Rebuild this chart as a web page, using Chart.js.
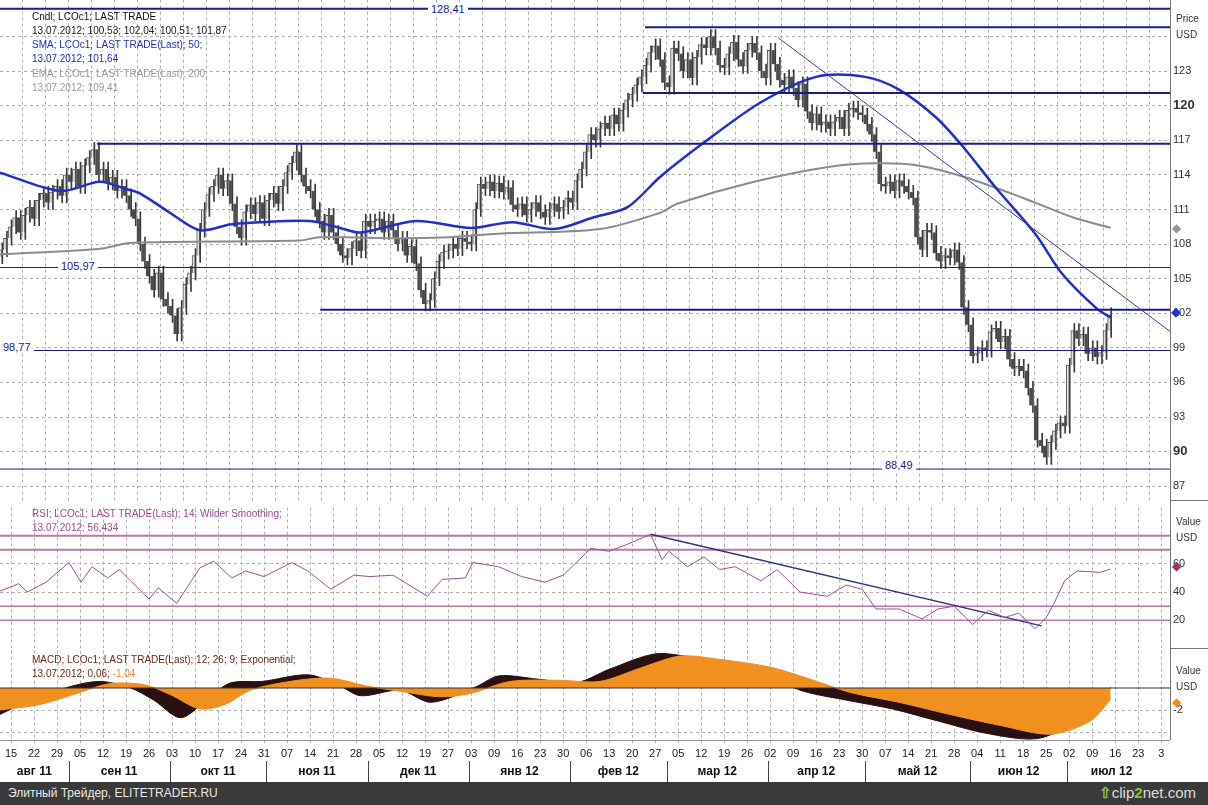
<!DOCTYPE html>
<html>
<head>
<meta charset="utf-8">
<script src="https://cdn.jsdelivr.net/npm/chart.js@4.4.0/dist/chart.umd.min.js"></script>
<style>
  body { margin: 0; width: 1208px; height: 805px; background: #fff; position: relative; overflow: hidden; font-family: "Liberation Sans", Arial, sans-serif; }
  canvas { position: absolute; left: 0; }
  .t { position: absolute; font-size: 10px; white-space: nowrap; line-height: 12px; }
  .lbl { position: absolute; font-size: 11px; color: #1a1a8c; background: #fff; padding: 0 3px; line-height: 12px; }
  .rule { position: absolute; background: #777; }
  #footer { position: absolute; left: 0; top: 782px; width: 1208px; height: 23px; background: #3a3a3a; color: #e8e8e8; font-size: 12px; }
</style>
</head>
<body>
<canvas id="main" width="1208" height="522" style="top:-10px"></canvas>
<canvas id="rsi" width="1208" height="160" style="top:498px"></canvas>
<canvas id="macd" width="1208" height="144" style="top:641px"></canvas>

<div class="rule" style="left:1170px;top:0;width:1px;height:740px"></div>
<div class="rule" style="left:1170px;top:500px;width:38px;height:1px"></div>
<div class="rule" style="left:1170px;top:648px;width:38px;height:1px"></div>
<div class="rule" style="left:0;top:740px;width:1170px;height:1px;background:#999"></div>

<div class="t" style="left:32px;top:11px;color:#111">Cndl; LCOc1; LAST TRADE</div>
<div class="t" style="left:32px;top:25px;color:#222">13.07.2012; 100,53; 102,04; 100,51; 101,87</div>
<div class="t" style="left:32px;top:39px;color:#2030c0">SMA; LCOc1; LAST TRADE(Last);  50;</div>
<div class="t" style="left:32px;top:53px;color:#2030c0">13.07.2012; 101,64</div>
<div class="t" style="left:32px;top:68px;color:#999">EMA; LCOc1; LAST TRADE(Last);  200;</div>
<div class="t" style="left:32px;top:82px;color:#999">13.07.2012; 109,41</div>
<div class="lbl" style="left:428px;top:3px">128,41</div>
<div class="lbl" style="left:58px;top:260px">105,97</div>
<div class="lbl" style="left:0px;top:341px">98,77</div>
<div class="lbl" style="left:882px;top:459px">88,49</div>
<div class="t" style="left:1176px;top:13px;color:#333">Price</div>
<div class="t" style="left:1176px;top:29px;color:#333">USD</div>
<div class="t" style="left:1172px;top:222px;color:#999;font-size:12px">&#9670;</div>
<div class="t" style="left:1171px;top:306px;color:#1a3ad0;font-size:13px">&#9670;</div>

<div class="t" style="left:32px;top:508px;color:#a04a90">RSI; LCOc1; LAST TRADE(Last);  14; Wilder Smoothing;</div>
<div class="t" style="left:32px;top:522px;color:#a04a90">13.07.2012; 56,434</div>
<div class="t" style="left:1176px;top:516px;color:#333">Value</div>
<div class="t" style="left:1176px;top:532px;color:#333">USD</div>
<div class="t" style="left:1172px;top:560px;color:#a0306a;font-size:12px">&#9670;</div>

<div class="t" style="left:32px;top:654px;color:#6a2a1a">MACD; LCOc1; LAST TRADE(Last);  12; 26; 9; Exponential;</div>
<div class="t" style="left:32px;top:668px;color:#6a2a1a">13.07.2012; 0,06; <span style="color:#f08a20">-1,04</span></div>
<div class="t" style="left:1176px;top:665px;color:#333">Value</div>
<div class="t" style="left:1176px;top:681px;color:#333">USD</div>
<div class="t" style="left:1172px;top:696px;color:#f08a20;font-size:12px">&#9670;</div>

<div id="footer"><span style="position:absolute;left:8px;top:4px">Элитный Трейдер, ELITETRADER.RU</span>
<span style="position:absolute;right:12px;top:2px;font-size:15px;color:#ddd"><b style="color:#8bc34a">&#8679;</b>clip<b style="color:#8bc34a">2</b>net.com</span></div>

<script>
/* Week tick labels (Mondays), one per 5 trading days from 15 Aug 2011. */
const weekLabels = ["15","22","29","05","12","19","26","03","10","17","24","31","07","14","21","28",
  "05","12","19","27","03","09","16","23","30","06","13","20","27","05","12","19","26","02","09",
  "16","23","30","07","14","21","28","04","11","18","25","02","09","16","23","3"]

/* Month labels and first trading day (day index) of each month. */
const monthNames = ["авг 11","сен 11","окт 11","ноя 11","дек 11","янв 12","фев 12","мар 12","апр 12","май 12","июн 12","июл 12"]
const monthStart = [-3, 13, 35, 56, 78, 100, 122, 143, 165, 186, 209, 230]

/* Daily closes, first value is day -2 (11 Aug 2011). */
const firstDay = -2
const closes = [107.5, 108.5,
  109.5, 110.3, 109.0, 110.5, 111.2,
  110.2, 111.8, 112.4, 111.6, 112.5,
  113.0, 112.2, 114.0, 113.4, 114.5,
  113.0, 114.8, 115.5, 116.2, 114.0,
  114.5, 113.3, 113.8, 112.6, 113.0,
  112.2, 111.0, 110.2, 108.0, 106.5,
  105.2, 104.0, 105.5, 103.2, 102.6,
  101.8, 100.2, 102.5, 104.5, 105.5,
  107.0, 109.2, 111.0, 112.3, 113.0,
  114.0, 112.8, 113.5, 111.5, 109.5,
  108.5, 110.8, 111.4, 110.6, 111.6,
  110.2, 111.8, 112.4, 111.5, 113.0,
  114.2, 115.0, 116.0, 114.0, 113.0,
  112.6, 111.0, 110.0, 109.0, 110.5,
  109.0, 108.0, 107.0, 106.8, 107.6,
  108.3, 107.4, 110.0, 109.5, 110.0,
  110.2, 109.0, 110.0, 109.2, 108.0,
  108.5, 107.0, 107.8, 106.3, 104.0,
  102.8, 103.1, 105.0, 106.5, 107.3,
  107.4, 108.0, 107.6, 108.5, 108.2,
  108.0, 111.0, 113.2, 112.8, 113.4,
  112.6, 113.3, 112.5, 112.9, 111.4,
  111.0, 111.5, 110.5, 111.0, 111.6,
  110.8, 110.3, 111.0, 111.5, 110.8,
  111.2, 112.0, 111.6, 113.5, 114.5,
  116.0, 117.5, 117.0, 118.0, 118.5,
  118.0, 119.2, 118.4, 119.6, 120.5,
  121.0, 121.8, 122.5, 123.5, 124.6,
  125.2, 124.0, 122.0, 121.6, 125.0,
  124.5, 123.0, 124.0, 122.4, 124.2,
  125.3, 125.0, 126.0, 125.0, 123.5,
  123.3, 124.5, 125.5, 124.0, 123.4,
  124.8, 125.4, 124.6, 123.0, 122.4,
  124.8, 123.6, 122.2, 121.8, 122.5,
  121.5, 120.5, 121.9, 119.5, 118.5,
  119.3, 118.3, 118.6, 118.0, 118.6,
  119.0, 118.0, 119.6, 119.8, 119.4,
  119.2, 118.4, 117.5, 116.0, 113.2,
  113.0, 113.4, 112.6, 113.5, 113.0,
  112.5, 112.0, 108.6, 107.5, 109.2,
  109.0, 107.2, 106.5, 107.0, 106.8,
  107.5, 106.4, 102.5, 101.0, 98.3,
  98.5, 99.0, 98.8, 100.4, 100.7,
  99.5, 100.0, 98.0, 97.2, 97.4,
  97.0, 95.5, 94.0, 91.0, 90.5,
  89.5, 90.8, 91.8, 92.5, 92.2,
  97.5, 100.5, 99.8, 100.2, 98.5,
  99.0, 98.2, 98.6, 100.5, 101.87]

/* SMA 50 and EMA 200 (day index, value). */
const smaDays = [-2.4, 10.7, 19.3, 24.8, 28, 34.6, 41, 47.6, 54, 65, 71.5, 76, 88, 100, 109, 118, 126.5, 134, 141, 150.6, 163, 175, 185.6, 193, 201, 207, 214, 222.6, 228.5, 236, 239]
const smaVals = [114.2, 112.6, 113.4, 112.8, 112.4, 110.7, 109.2, 109.7, 109.9, 110, 109.4, 109, 110, 109.4, 109.9, 109.3, 110.3, 111.2, 113.8, 116.8, 120.3, 122.5, 122.5, 121.4, 119, 116.4, 112.9, 108.9, 105.4, 102.4, 101.64]
const emaDays = [-2.4, 19.3, 26, 62.8, 67, 84.6, 95.4, 106, 128, 141, 144.8, 161.5, 178, 188, 197.4, 207.4, 220, 230.9, 239]
const emaVals = [107.1, 107.6, 108.1, 108.3, 108.6, 108.5, 108.6, 108.9, 109.3, 110.7, 111.5, 113.4, 114.7, 115.0, 114.8, 113.8, 112.0, 110.3, 109.41]

/* Support / resistance lines: [fromDay, toDay, price, width]. */
const levels = [[-2.4, 252, 128.41, 2], [137.8, 252, 126.8, 2], [137.3, 252, 121.1, 2], [18.7, 252, 116.7, 2],
  [-2.4, 252, 105.97, 1], [67.2, 252, 102.3, 2], [-2.4, 252, 98.77, 1], [-2.4, 252, 88.49, 1]]
const trendDays = [166.7, 252]
const trendVals = [125.9, 100.4]

/* RSI 14. */
const rsiDays = [-2.4, 1.7, 3.5, 7.6, 12.6, 15.2, 17.6, 21, 23.5, 26, 30, 32, 36, 41, 44, 48, 51, 55, 61, 64.5, 69.5, 74.5, 78, 83, 86, 90.5, 93.7, 98.7, 100.4, 106, 111, 116, 120, 126, 130, 134, 139, 141.5, 143, 147, 150.6, 154, 157.4, 163, 166.5, 171.5, 177.4, 181.5, 185, 188, 193, 198, 201.5, 205, 209, 212.4, 216, 219, 222.6, 225, 226.7, 229, 231.7, 236.7, 239]
const rsiVals = [40.7, 46, 40, 47, 61, 47, 58, 50, 56, 48, 35, 43, 32, 57, 62, 50, 55, 51, 61, 55, 42, 52, 51, 52, 46, 37, 49, 50, 61, 58, 51, 47, 52, 71, 69, 74, 81, 63, 69, 58, 65, 56, 58, 48, 56, 40, 37, 45, 42, 28, 28, 21, 28, 30, 17, 27, 22, 25, 14, 22, 32, 48, 55, 54, 56.4]
const rsiLevels = [[80, 2], [70, 2], [30, 1.5], [20, 1.5]]
const rsiTrendDays = [139, 224]
const rsiTrendVals = [81, 16]

/* MACD line and signal. */
const macdDays = [-2.4, 4.3, 12.6, 19.3, 26, 31, 37, 44, 48, 54.6, 64.6, 71, 76, 84.6, 91.3, 101, 106, 114.6, 123, 130, 140, 148, 158, 165, 171.5, 181.5, 191.5, 201.5, 211.7, 223, 231.7, 236.7, 239]
const macdVals = [-2.4, -1.1, 0.1, 0.6, 0, -1.1, -2.7, -0.5, 0.5, 0.6, 1.2, 0.3, -0.7, -0.2, -1.3, 0.1, 1.1, 0.8, 0.5, 1.7, 3.1, 2.8, 2.2, 1.2, -0.2, -1.1, -1.9, -3, -4.1, -4.6, -3, -1.2, 0.06]
const sigDays = [-2.4, 6.3, 15, 21.5, 29, 34.6, 41, 46.5, 52, 60.7, 69.3, 77, 84.6, 93.3, 99.8, 108.5, 119, 128, 136.7, 145.4, 154, 165, 173.7, 182.4, 193, 204, 215, 226, 234.6, 239]
const sigVals = [-2.0, -1.5, -0.4, 0.4, 0.3, -0.6, -1.9, -1.5, -0.2, 0.6, 0.9, 0.2, -0.3, -0.8, -0.5, 0.6, 0.7, 0.6, 1.8, 2.9, 2.6, 1.9, 0.8, -0.4, -1.3, -2.4, -3.4, -4.2, -3.0, -1.04]

const X_MIN = -2.4
const X_MAX = 251.9
const pts = (xs, ys) => xs.map((x, i) => ({ x, y: ys[i] }))
const grid = { color: "#b0b0b0", drawTicks: false }
const dashed = { display: false, dash: [3, 3] }
const tickFont = { family: "Liberation Sans", size: 11 }

/* Shared x axis: one tick per week. */
const xAxis = (showLabels) => ({
  type: "linear", min: X_MIN, max: X_MAX, offset: false,
  grid, border: dashed,
  afterBuildTicks: s => { s.ticks = weekLabels.map((l, i) => ({ value: i * 5 })) },
  ticks: { display: showLabels, autoSkip: false, maxRotation: 0, color: "#222", font: tickFont, padding: 4,
    callback: (v, i) => weekLabels[i] },
  afterFit: s => { s.height = showLabels ? 42 : 0 }
})
const yAxis = (extra) => Object.assign({
  position: "right", grid, border: dashed,
  ticks: { color: "#333", font: tickFont, padding: 3 },
  afterFit: s => { s.width = 38 }
}, extra)

/* Candles: body [open, close] and wick [low, high]. */
const bodies = []
const wicks = []
const bodyColors = []
closes.forEach((c, i) => {
  const o = i === 0 ? c - 0.6 : closes[i - 1]
  const d = firstDay + i
  bodies.push({ x: d, y: [o, c] })
  wicks.push({ x: d, y: [Math.min(o, c) - 0.6, Math.max(o, c) + 0.6] })
  bodyColors.push(c >= o ? "#e4e4e4" : "#4a4a4a")
})

const lineSet = (data, color, width, extra) => Object.assign({
  type: "line", data, borderColor: color, borderWidth: width, pointRadius: 0, tension: 0.3, fill: false
}, extra)

const mainSets = [
  { type: "bar", data: wicks, backgroundColor: "#3a3a3a", barThickness: 1, order: 5 },
  { type: "bar", data: bodies, backgroundColor: bodyColors, borderColor: "#555", borderWidth: 1, barThickness: 3, order: 4 },
  lineSet(pts(emaDays, emaVals), "#8c8c8c", 2, { order: 3 }),
  lineSet(pts(smaDays, smaVals), "#1f2fc8", 2.5, { order: 2 }),
  lineSet(pts(trendDays, trendVals), "#3a3a9a", 1, { tension: 0, order: 1 })
]
levels.forEach(l => mainSets.push(lineSet([{ x: l[0], y: l[2] }, { x: l[1], y: l[2] }], "#1a1a8c", l[3], { tension: 0, order: 1 })))

const baseOptions = {
  responsive: false, animation: false, events: [],
  plugins: { legend: { display: false }, tooltip: { enabled: false } }
}

const isBold = c => c && c.tick && (c.tick.value === 90 || c.tick.value === 120)

new Chart(document.getElementById("main"), {
  type: "bar",
  data: { datasets: mainSets },
  options: Object.assign({}, baseOptions, {
    layout: { padding: 0 },
    scales: {
      x: xAxis(false),
      y: yAxis({ min: 85.6, max: 129.2,
        afterBuildTicks: s => { s.ticks = [87, 90, 93, 96, 99, 102, 105, 108, 111, 114, 117, 120, 123, 126].map(v => ({ value: v })) },
        ticks: { color: "#333", padding: 3,
          font: c => ({ family: "Liberation Sans", size: isBold(c) ? 13 : 11, weight: isBold(c) ? "bold" : "normal" }),
          callback: v => v === 126 ? "" : v } })
    }
  })
})

const rsiSets = [
  lineSet(pts(rsiDays, rsiVals), "#a0508f", 1, { tension: 0 }),
  lineSet(pts(rsiTrendDays, rsiTrendVals), "#30308a", 1.5, { tension: 0 })
]
rsiLevels.forEach(l => rsiSets.push(lineSet([{ x: X_MIN, y: l[0] }, { x: X_MAX, y: l[0] }], "#b87aa8", l[1], { tension: 0 })))

new Chart(document.getElementById("rsi"), {
  type: "line",
  data: { datasets: rsiSets },
  options: Object.assign({}, baseOptions, {
    layout: { padding: { top: 4 } },
    scales: {
      x: xAxis(false),
      y: yAxis({ min: 0, max: 100,
        afterBuildTicks: s => { s.ticks = [20, 40, 60].map(v => ({ value: v })) } })
    }
  })
})

/* Month captions and separators under the bottom panel. */
const monthPlugin = {
  id: "months",
  afterDraw: chart => {
    const ctx = chart.ctx
    const xs = chart.scales.x
    const top = chart.chartArea.bottom
    ctx.save()
    ctx.fillStyle = "#111"
    ctx.strokeStyle = "#444"
    ctx.font = "bold 12px 'Liberation Sans'"
    ctx.textAlign = "center"
    monthStart.forEach((d, i) => {
      const x0 = Math.max(xs.getPixelForValue(d - 0.5), 0)
      const x1 = i + 1 < monthStart.length ? xs.getPixelForValue(monthStart[i + 1] - 0.5) : xs.getPixelForValue(X_MAX - 3)
      if (i > 0) {
        ctx.beginPath()
        ctx.moveTo(Math.round(x0) + 0.5, top + 18)
        ctx.lineTo(Math.round(x0) + 0.5, top + 40)
        ctx.stroke()
      }
      ctx.fillText(monthNames[i], (x0 + x1) / 2, top + 32)
    })
    ctx.restore()
  }
}

new Chart(document.getElementById("macd"), {
  type: "line",
  data: { datasets: [
    lineSet(pts(macdDays, macdVals), "#2a0e0e", 1, { fill: "origin", backgroundColor: "#2a1010", order: 2 }),
    lineSet(pts(sigDays, sigVals), "#f0902a", 1, { fill: "origin", backgroundColor: "#f0901e", order: 1 }),
    lineSet([{ x: X_MIN, y: 0 }, { x: X_MAX, y: 0 }], "#333", 1, { tension: 0, order: 0 })
  ] },
  options: Object.assign({}, baseOptions, {
    layout: { padding: { top: 2 } },
    scales: {
      x: xAxis(true),
      y: yAxis({ min: -5, max: 3.4,
        afterBuildTicks: s => { s.ticks = [-4, -2].map(v => ({ value: v })) },
        ticks: { color: "#333", font: tickFont, padding: 3, callback: v => v === -4 ? "" : v } })
    }
  }),
  plugins: [monthPlugin]
})
</script>
</body>
</html>
